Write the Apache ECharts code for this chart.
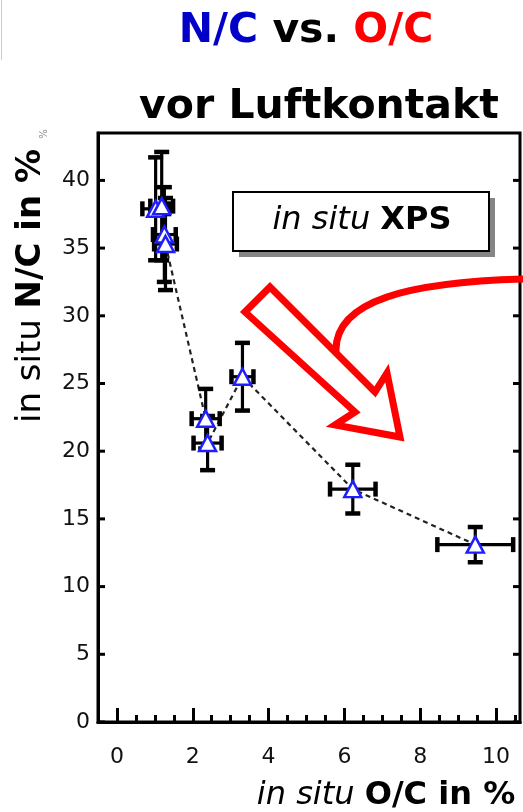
<!DOCTYPE html>
<html>
<head>
<meta charset="utf-8">
<script src="https://cdn.jsdelivr.net/npm/echarts@6/dist/echarts.min.js"></script>
<style>
html, body { margin: 0; padding: 0; background: #fff; }
#chart { width: 523px; height: 812px; }
</style>
</head>
<body>
<div id="chart"></div>
<script>
// Measured atomic ratios (in situ XPS), in percent
const ocValues  = [1.02, 1.18, 1.25, 1.28, 2.34, 2.39, 3.31, 6.22, 9.45];
const ncValues  = [37.9, 38.1, 36.0, 35.3, 22.4, 20.6, 25.5, 17.2, 13.1];
const ocErrors  = [0.35, 0.30, 0.30, 0.30, 0.37, 0.37, 0.29, 0.60, 1.00];
const ncErrors  = [3.8, 4.0, 3.5, 3.4, 2.2, 2.0, 2.5, 1.8, 1.3];

const xMajorTicks = [0, 2, 4, 6, 8, 10];
const xMinorTicks = [0.5, 1, 1.5, 2.5, 3, 3.5, 4.5, 5, 5.5, 6.5, 7, 7.5, 8.5, 9, 9.5, 10.5];
const yTicks = [0, 5, 10, 15, 20, 25, 30, 35, 40];

const X_MIN = -0.5, X_MAX = 10.63, Y_MIN = 0, Y_MAX = 43.5;
const FONT = 'DejaVu Sans';

const points = ocValues.map((x, i) => [x, ncValues[i]]);
const errorData = ocValues.map((x, i) => [x, ncValues[i], ocErrors[i], ncErrors[i]]);

function renderErrorBars(params, api) {
  const x = api.value(0), y = api.value(1), dx = api.value(2), dy = api.value(3);
  const c = api.coord([x, y]);
  const top = api.coord([x, y + dy])[1];
  const bot = api.coord([x, y - dy])[1];
  const left = api.coord([x - dx, y])[0];
  const right = api.coord([x + dx, y])[0];
  const cap = 7.5;
  const bar = { stroke: '#000', lineWidth: 3.2 };
  const capStyle = { stroke: '#000', lineWidth: 4.5 };
  return {
    type: 'group',
    children: [
      { type: 'line', shape: { x1: c[0], y1: top, x2: c[0], y2: bot }, style: bar },
      { type: 'line', shape: { x1: c[0] - cap, y1: top, x2: c[0] + cap, y2: top }, style: capStyle },
      { type: 'line', shape: { x1: c[0] - cap, y1: bot, x2: c[0] + cap, y2: bot }, style: capStyle },
      { type: 'line', shape: { x1: left, y1: c[1], x2: right, y2: c[1] }, style: bar },
      { type: 'line', shape: { x1: left, y1: c[1] - cap, x2: left, y2: c[1] + cap }, style: capStyle },
      { type: 'line', shape: { x1: right, y1: c[1] - cap, x2: right, y2: c[1] + cap }, style: capStyle }
    ]
  };
}

// Titles, label box and the red annotation arrows
const decorations = [
  // faint page edge at top left
  { type: 'line', shape: { x1: 1.5, y1: 0, x2: 1.5, y2: 60 }, style: { stroke: '#ccc', lineWidth: 1 } },
  {
    type: 'text', x: 306, y: 31,
    style: {
      text: '{b|N/C }{k|vs. }{r|O/C}', align: 'center', verticalAlign: 'middle',
      rich: {
        b: { fill: '#0000c8', fontFamily: FONT, fontWeight: 'bold', fontSize: 41 },
        k: { fill: '#000', fontFamily: FONT, fontWeight: 'bold', fontSize: 41 },
        r: { fill: '#ff0000', fontFamily: FONT, fontWeight: 'bold', fontSize: 41 }
      }
    }
  },
  {
    type: 'text', x: 319, y: 107,
    style: {
      text: 'vor Luftkontakt', align: 'center', verticalAlign: 'middle',
      fill: '#000', font: 'bold 41px "DejaVu Sans"'
    }
  },
  {
    type: 'text', x: 31, y: 286, rotation: Math.PI / 2,
    style: {
      text: '{n|in situ }{b|N/C in %}', align: 'center', verticalAlign: 'middle',
      rich: {
        n: { fill: '#000', fontFamily: FONT, fontSize: 34 },
        b: { fill: '#000', fontFamily: FONT, fontWeight: 'bold', fontSize: 34 }
      }
    }
  },
  {
    type: 'text', x: 44, y: 134, rotation: Math.PI / 2,
    style: { text: '%', align: 'center', verticalAlign: 'middle', fill: '#888', font: '10px "DejaVu Sans"' }
  },
  {
    type: 'text', x: 386, y: 796,
    style: {
      text: '{n|in situ }{b|O/C in %}', align: 'center', verticalAlign: 'middle',
      rich: {
        n: { fill: '#000', fontFamily: FONT, fontStyle: 'italic', fontSize: 32 },
        b: { fill: '#000', fontFamily: FONT, fontWeight: 'bold', fontSize: 32 }
      }
    }
  },
  { type: 'rect', shape: { x: 239, y: 198, width: 256, height: 59 }, style: { fill: '#858585' }, z: 10 },
  { type: 'rect', shape: { x: 233, y: 192, width: 256, height: 59 }, style: { fill: '#fff', stroke: '#000', lineWidth: 2 }, z: 11 },
  {
    type: 'text', x: 362, y: 221, z: 12,
    style: {
      text: '{n|in situ }{b|XPS}', align: 'center', verticalAlign: 'middle',
      rich: {
        n: { fill: '#000', fontFamily: FONT, fontStyle: 'italic', fontSize: 32 },
        b: { fill: '#000', fontFamily: FONT, fontWeight: 'bold', fontSize: 32 }
      }
    }
  },
  {
    type: 'polygon', z: 10,
    shape: { points: [[270, 287], [375, 392], [387, 373], [400, 437], [335, 425], [355, 412], [245, 312]] },
    style: { fill: 'none', stroke: '#ff0000', lineWidth: 7, lineJoin: 'miter' }
  },
  {
    type: 'bezierCurve', z: 10,
    shape: { x1: 336, y1: 352, cpx1: 334, cpy1: 300, cpx2: 410, cpy2: 282, x2: 526, y2: 279 },
    style: { fill: 'none', stroke: '#ff0000', lineWidth: 7 }
  }
];

const chart = echarts.init(document.getElementById('chart'), null, { renderer: 'canvas' });

const tickLine = { color: '#000', width: 3 };
const frameLine = { show: true, onZero: false, lineStyle: { color: '#000', width: 3 } };

chart.setOption({
  animation: false,
  backgroundColor: '#fff',
  grid: {
    left: 98, right: 3, top: 133, bottom: 90,
    show: true, borderColor: '#000', borderWidth: 3, backgroundColor: 'transparent'
  },
  xAxis: [
    {
      type: 'value', min: X_MIN, max: X_MAX, position: 'bottom',
      axisLine: frameLine,
      splitLine: { show: false },
      axisTick: { show: true, inside: true, length: 14, customValues: xMajorTicks, lineStyle: tickLine },
      axisLabel: { show: true, customValues: xMajorTicks, margin: 24,
                   fontFamily: FONT, fontSize: 22, color: '#111' }
    },
    {
      type: 'value', min: X_MIN, max: X_MAX, position: 'bottom',
      axisLine: frameLine,
      splitLine: { show: false },
      axisTick: { show: true, inside: true, length: 7, customValues: xMinorTicks, lineStyle: tickLine },
      axisLabel: { show: false }
    }
  ],
  yAxis: [
    {
      type: 'value', min: Y_MIN, max: Y_MAX, interval: 5, position: 'left',
      axisLine: frameLine,
      splitLine: { show: false },
      axisTick: { show: false },
      axisLabel: { show: true, customValues: yTicks, margin: 8,
                   fontFamily: FONT, fontSize: 22, color: '#111' }
    }
  ],
  series: [
    {
      name: 'trend', type: 'line', data: points, z: 1,
      symbol: 'none', silent: true,
      lineStyle: { color: '#222', width: 2.2, type: [5, 4] }
    },
    {
      name: 'errors', type: 'custom', data: errorData, z: 2,
      encode: { x: 0, y: 1 },
      renderItem: renderErrorBars
    },
    {
      name: 'N/C', type: 'scatter', data: points, z: 3,
      symbol: 'triangle', symbolSize: [17, 16],
      itemStyle: { color: '#fff', borderColor: '#1e1eff', borderWidth: 2.5, opacity: 1 },
      emphasis: { disabled: true }
    }
  ]
});

// Inward tick marks on both vertical frame edges, placed through the y scale
const leftX = chart.convertToPixel({ xAxisIndex: 0 }, X_MIN);
const rightX = chart.convertToPixel({ xAxisIndex: 0 }, X_MAX);
const frameTicks = [];
yTicks.forEach(v => {
  const py = chart.convertToPixel({ yAxisIndex: 0 }, v);
  frameTicks.push({ type: 'line', z: 20, shape: { x1: leftX, y1: py, x2: leftX + 7, y2: py },
                    style: { stroke: '#000', lineWidth: 3 } });
  frameTicks.push({ type: 'line', z: 20, shape: { x1: rightX - 7, y1: py, x2: rightX, y2: py },
                    style: { stroke: '#000', lineWidth: 3 } });
});
chart.setOption({ graphic: decorations.concat(frameTicks) });
</script>
</body>
</html>
